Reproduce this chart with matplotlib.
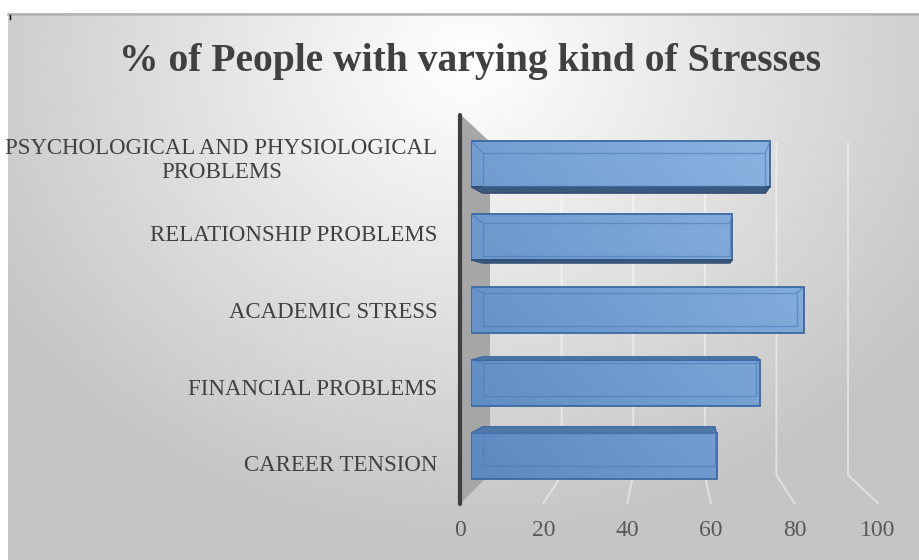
import matplotlib
matplotlib.use("Agg")
import matplotlib.pyplot as plt
import numpy as np
from matplotlib.colors import to_rgb
from matplotlib.patches import Polygon

# data (bottom to top)
categories = ["CAREER TENSION", "FINANCIAL PROBLEMS", "ACADEMIC STRESS",
              "RELATIONSHIP PROBLEMS", "PSYCHOLOGICAL AND PHYSIOLOGICAL\nPROBLEMS"]
values = [62, 73, 84, 66, 75.5]
x_ticks = [0, 20, 40, 60, 80, 100]
title = "% of People with varying kind of Stresses"

W, H = 919, 560
fig = plt.figure(figsize=(W / 100, H / 100), dpi=100)
fig.patch.set_facecolor("white")


def px(x0, y0, x1, y1):
    # pixel box (y down) -> figure fraction rect
    return [x0 / W, 1 - y1 / H, (x1 - x0) / W, (y1 - y0) / H]


# radial grey background of the chart area
bg = fig.add_axes(px(8, 13, W, H), zorder=0)
gx, gy = np.meshgrid(np.linspace(8, W, 400), np.linspace(13, H, 260))
r = np.sqrt(((gx - 470) / 600) ** 2 + ((gy - 60) / 520) ** 2)
shade = np.clip(1.0 - 0.25 * r, 0.77, 1.0)
bg.imshow(shade, cmap="gray", vmin=0, vmax=1, aspect="auto",
          extent=[8, W, H, 13], interpolation="bilinear")
bg.axis("off")

# frame axes in pixel coordinates for the 3d backdrop
fr = fig.add_axes([0, 0, 1, 1], zorder=1)
fr.set_xlim(0, W)
fr.set_ylim(H, 0)
fr.axis("off")
fr.patch.set_alpha(0)
fr.plot([8, W], [13.5, 13.5], color="#b3b3b3", lw=1.8)
fr.plot([10, 10], [15, 19], color="black", lw=1)


def back_x(v):
    return 490 + v * 3.58


def front_x(v):
    return 460 + v * 4.18


# side wall
fr.add_patch(Polygon([(461, 115), (490, 142), (490, 474), (461, 503)],
                     closed=True, facecolor="#a6a6a6", edgecolor="none"))
for v in x_ticks[1:]:
    fr.plot([back_x(v), back_x(v), front_x(v)], [143, 475, 503],
            color="white", alpha=0.5, lw=1.3)
for v in x_ticks:
    fr.text(front_x(v), 531, str(v), ha="center", va="center",
            fontsize=17, color="#595959", family="Liberation Serif")
fr.plot([460, 460], [115, 504], color="#3f3f3f", lw=3, solid_capstyle="round")

fr.text(470, 61, title, ha="center", va="center", fontsize=28.5,
        fontweight="bold", color="#404040", family="Liberation Serif")

# bar axes: 0 at x=470.7, 100 at x=867.2
ax = fig.add_axes(px(470.7, 127, 867.2, 493), zorder=2)
ax.patch.set_alpha(0)
ax.set_xlim(0, 100)
ax.set_ylim(-0.5, 4.5)
for s in ax.spines.values():
    s.set_visible(False)
ax.set_xticks([])

pos = np.arange(len(values))
bar_h = 0.63
bars = ax.barh(pos, values, height=bar_h, color="none",
               edgecolor="#3a69a5", linewidth=1.3, zorder=3)

# blue gradient clipped to each bar
dark, light = np.array(to_rgb("#5a88bf")), np.array(to_rgb("#95bbe8"))
ix, iy = np.meshgrid(np.linspace(0, 1, 200), np.linspace(1, 0, 100))
t = np.clip(0.55 * ix + 0.45 * iy, 0, 1)[..., None]
grad = dark + t * (light - dark)
for b in bars:
    im = ax.imshow(grad, extent=[0, 100, -0.5, 4.5], aspect="auto",
                   zorder=2, interpolation="bilinear")
    im.set_clip_path(b)

# fake depth: back face and top/bottom faces
for i, v in enumerate(values):
    dy = -(i - 2) * 0.045
    bl, br = 3.0, 3.0 + v * 0.945
    y_lo, y_hi = i - bar_h / 2, i + bar_h / 2
    ax.plot([bl, br, br, bl, bl], [y_lo + dy + 0.1, y_lo + dy + 0.1,
                                   y_hi + dy - 0.08, y_hi + dy - 0.08,
                                   y_lo + dy + 0.1],
            color="#4a7bb8", lw=1, alpha=0.6, zorder=4)
    ax.plot([0, bl], [y_hi, y_hi + dy - 0.08], color="#4a7bb8", lw=1,
            alpha=0.6, zorder=4)
    ax.plot([v, br], [y_hi, y_hi + dy - 0.08], color="#4a7bb8", lw=1,
            alpha=0.6, zorder=4)
    if dy < 0:
        face = [(0, y_lo), (v, y_lo), (br, y_lo + dy), (bl, y_lo + dy)]
        ax.add_patch(Polygon(face, closed=True, facecolor="#3b587f",
                             edgecolor="#2f4a70", lw=0.8, zorder=3))
    elif dy > 0:
        face = [(0, y_hi), (v, y_hi), (br, y_hi + dy), (bl, y_hi + dy)]
        ax.add_patch(Polygon(face, closed=True, facecolor="#5176a8",
                             edgecolor="#3a69a5", lw=1, zorder=3))

ax.set_yticks(2 + (pos - 2) * 1.046)
ax.set_yticklabels(categories, fontsize=16.5, color="#404040",
                   family="Liberation Serif", linespacing=1.15)
ax.tick_params(axis="y", length=0, pad=24)
for lbl in ax.get_yticklabels():
    lbl.set_multialignment("center")

fig.savefig("out.png", dpi=100)
